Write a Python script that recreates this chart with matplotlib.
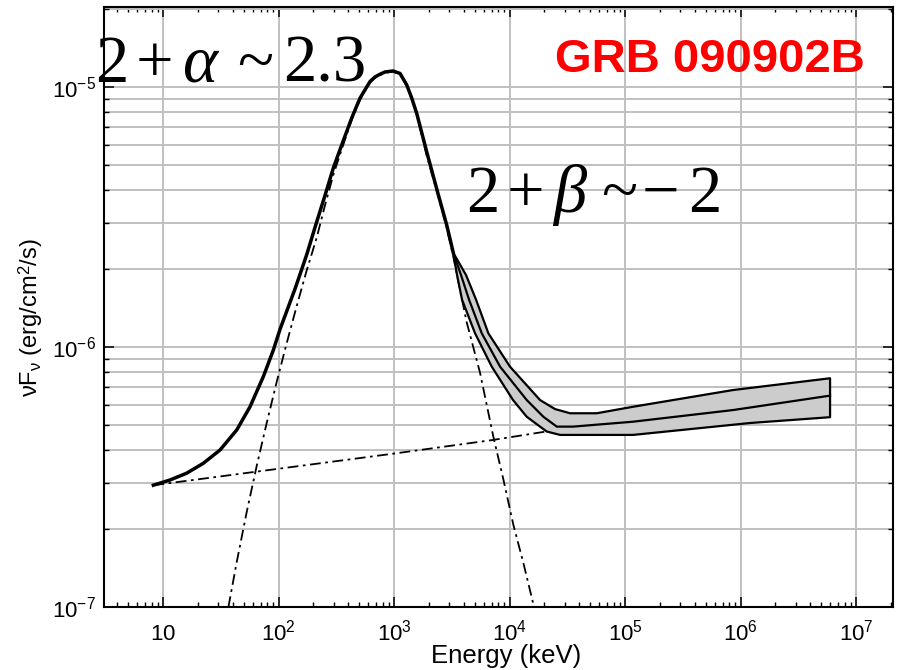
import matplotlib
matplotlib.use('Agg')
import matplotlib.pyplot as plt
from matplotlib.ticker import FixedLocator, FixedFormatter, LogLocator, NullFormatter

plt.rcParams.update({
    'font.family': ['Liberation Sans', 'DejaVu Sans'],
    'mathtext.fontset': 'custom',
    'mathtext.rm': 'Liberation Serif',
    'mathtext.it': 'Liberation Serif:italic',
    'mathtext.sf': 'Liberation Sans',
    'mathtext.bf': 'Liberation Serif:bold',
})

# ---- data ----
# total model curve (Band + PL), up to the point where the error band opens
tot_E = [8.24, 11.5, 16.0, 22.3, 31.2, 43.5, 56.6, 73.8, 90.1, 103, 140, 175, 214, 253,
         298, 352, 430, 508, 620, 685, 757, 836, 980, 1127, 1288, 1422, 1573, 1920, 2343,
         2860, 3260]
tot_F = [2.94e-7, 3.08e-7, 3.27e-7, 3.57e-7, 4.02e-7, 4.80e-7, 5.89e-7, 7.69e-7, 9.73e-7,
         1.17e-6, 1.69e-6, 2.26e-6, 3.03e-6, 3.84e-6, 4.88e-6, 5.98e-6, 7.60e-6, 9.07e-6,
         1.05e-5, 1.093e-5, 1.12e-5, 1.142e-5, 1.152e-5, 1.127e-5, 1.018e-5, 9.07e-6,
         7.90e-6, 5.62e-6, 4.05e-6, 2.94e-6, 2.30e-6]
# central curve and error band (high energies)
mid_E = [3260, 3802, 4460, 5745, 8280, 14090, 19630, 25640, 35480, 117300, 861000, 5.96e6]
mid_F = [2.30e-6, 1.89e-6, 1.52e-6, 1.129e-6, 8.40e-7, 6.25e-7, 5.39e-7, 4.94e-7, 4.94e-7,
         5.16e-7, 5.72e-7, 6.50e-7]
low_E = [3260, 3512, 3879, 5025, 7015, 10720, 14090, 18370, 20990, 27370, 117300, 1.208e6,
         5.96e6]
low_F = [2.30e-6, 1.89e-6, 1.52e-6, 1.129e-6, 8.40e-7, 6.25e-7, 5.39e-7, 4.94e-7, 4.73e-7,
         4.59e-7, 4.59e-7, 5.10e-7, 5.37e-7]
up_E = [3260, 4202, 5129, 6553, 10090, 18370, 24770, 33420, 56880, 117300, 861000, 5.96e6]
up_F = [2.30e-6, 1.89e-6, 1.52e-6, 1.129e-6, 8.40e-7, 6.25e-7, 5.77e-7, 5.56e-7, 5.56e-7,
        5.89e-7, 6.83e-7, 7.58e-7]
# Band component (dashed)
band_E = [36.8, 43.5, 53.1, 64.8, 79.1, 96.5, 118, 144, 175, 214, 253, 298, 352, 430, 508,
          620, 685, 757, 836, 980, 1127, 1288, 1422, 1573, 1920, 2343, 2860, 3260, 4246,
          5559, 7245, 8836, 10790, 13160, 15030, 16290]
band_F = [1.0e-7, 1.494e-7, 2.33e-7, 3.50e-7, 5.12e-7, 7.36e-7, 1.04e-6, 1.443e-6, 1.967e-6,
          2.635e-6, 3.52e-6, 4.59e-6, 5.75e-6, 7.47e-6, 8.95e-6, 1.04e-5, 1.085e-5, 1.11e-5,
          1.135e-5, 1.145e-5, 1.12e-5, 1.01e-5, 9.0e-6, 7.84e-6, 5.43e-6, 3.98e-6, 2.87e-6,
          2.22e-6, 1.25e-6, 7.94e-7, 4.51e-7, 3.10e-7, 2.07e-7, 1.48e-7, 1.16e-7, 1.0e-7]
# power-law component (dashed)
pl_E = [8.24, 1084, 7194, 19500, 38370]
pl_F = [2.94e-7, 3.91e-7, 4.39e-7, 4.71e-7, 4.88e-7]

x_major = [1e1, 1e2, 1e3, 1e4, 1e5, 1e6, 1e7]
x_labels = ['$\\mathsf{10}$', '$\\mathsf{10^{2}}$', '$\\mathsf{10^{3}}$', '$\\mathsf{10^{4}}$',
            '$\\mathsf{10^{5}}$', '$\\mathsf{10^{6}}$', '$\\mathsf{10^{7}}$']
y_major = [1e-7, 1e-6, 1e-5]
y_labels = ['$\\mathsf{10^{-7}}$', '$\\mathsf{10^{-6}}$', '$\\mathsf{10^{-5}}$']

# annotation pieces: (text, italic?, x pixel of origin)
alpha_pieces = [('2', False, 95), ('+', False, 136), ('\u03b1', True, 182), ('~', False, 237),
                ('2.3', False, 283)]
beta_pieces = [('2', False, 466), ('+', False, 507), ('\u03b2', True, 553), ('~', False, 601),
               ('\u2212', False, 642), ('2', False, 688)]

W, H = 904, 670
fig = plt.figure(figsize=(W / 100, H / 100), dpi=100)
L, R, T, B = 104, 893, 7, 607
ax = fig.add_axes([L / W, (H - B) / H, (R - L) / W, (B - T) / H])
ax.set_xscale('log')
ax.set_yscale('log')
ax.set_xlim(3.08, 2.09e7)
ax.set_ylim(1e-7, 2.03e-5)

gc = '#c0c0c0'
ax.set_axisbelow(True)
ax.xaxis.set_major_locator(FixedLocator(x_major))
ax.xaxis.set_major_formatter(FixedFormatter(x_labels))
ax.xaxis.set_minor_locator(LogLocator(base=10, subs=range(2, 10), numticks=50))
ax.xaxis.set_minor_formatter(NullFormatter())
ax.yaxis.set_major_locator(FixedLocator(y_major))
ax.yaxis.set_major_formatter(FixedFormatter(y_labels))
ax.yaxis.set_minor_locator(LogLocator(base=10, subs=range(2, 10), numticks=50))
ax.yaxis.set_minor_formatter(NullFormatter())
ax.grid(True, which='major', axis='x', color=gc, lw=1.4)
ax.grid(True, which='both', axis='y', color=gc, lw=1.4)

ax.tick_params(which='both', direction='in', top=True, right=True, colors='black',
               labelsize=16)
ax.tick_params(which='major', length=7, width=1.1)
ax.tick_params(which='minor', length=3.5, width=1.0)
ax.tick_params(axis='y', pad=6)
ax.tick_params(axis='x', pad=24)
for s in ax.spines.values():
    s.set_linewidth(1.5)
    s.set_color('black')

# error band
poly_x = list(up_E) + list(low_E[::-1])
poly_y = list(up_F) + list(low_F[::-1])
ax.fill(poly_x, poly_y, facecolor='#cccccc', edgecolor='black', lw=1.6, zorder=3,
        joinstyle='round')
ax.plot(mid_E, mid_F, color='black', lw=1.6, zorder=4, solid_joinstyle='round')

# components
dash = (0, (6, 2.5, 1.5, 2.5))
ax.plot(band_E, band_F, color='black', lw=1.3, ls=dash, zorder=2)
ax.plot(pl_E, pl_F, color='black', lw=1.3, ls=dash, zorder=2)
# total model
ax.plot(tot_E, tot_F, color='black', lw=2.5, zorder=5, solid_joinstyle='round')

ax.set_xlabel('Energy (keV)', fontsize=18.5, labelpad=-1)
ax.xaxis.label.set_x((506 - L) / (R - L))
ax.set_ylabel('\u03bdF$_{\\mathsf{\u03bd}}$ (erg/cm$^{\\mathsf{2}}$/s)', fontsize=17, labelpad=5)
ax.yaxis.label.set_y((B - 318) / (B - T))

for lab in ax.get_xticklabels():
    lab.set_verticalalignment('baseline')


def put_pieces(pieces, base_y, size):
    for txt, ital, xp in pieces:
        fig.text(xp / W, 1 - base_y / H, txt, fontsize=size, color='black',
                 family='Liberation Serif', style='italic' if ital else 'normal',
                 ha='left', va='baseline')


put_pieces(alpha_pieces, 82, 48)
put_pieces(beta_pieces, 212, 48)
fig.text(555 / W, 1 - 72 / H, 'GRB 090902B', fontsize=34, fontweight='bold',
         color='#ff0000', ha='left', va='baseline', family='Liberation Sans')

fig.savefig('out.png', dpi=100)
